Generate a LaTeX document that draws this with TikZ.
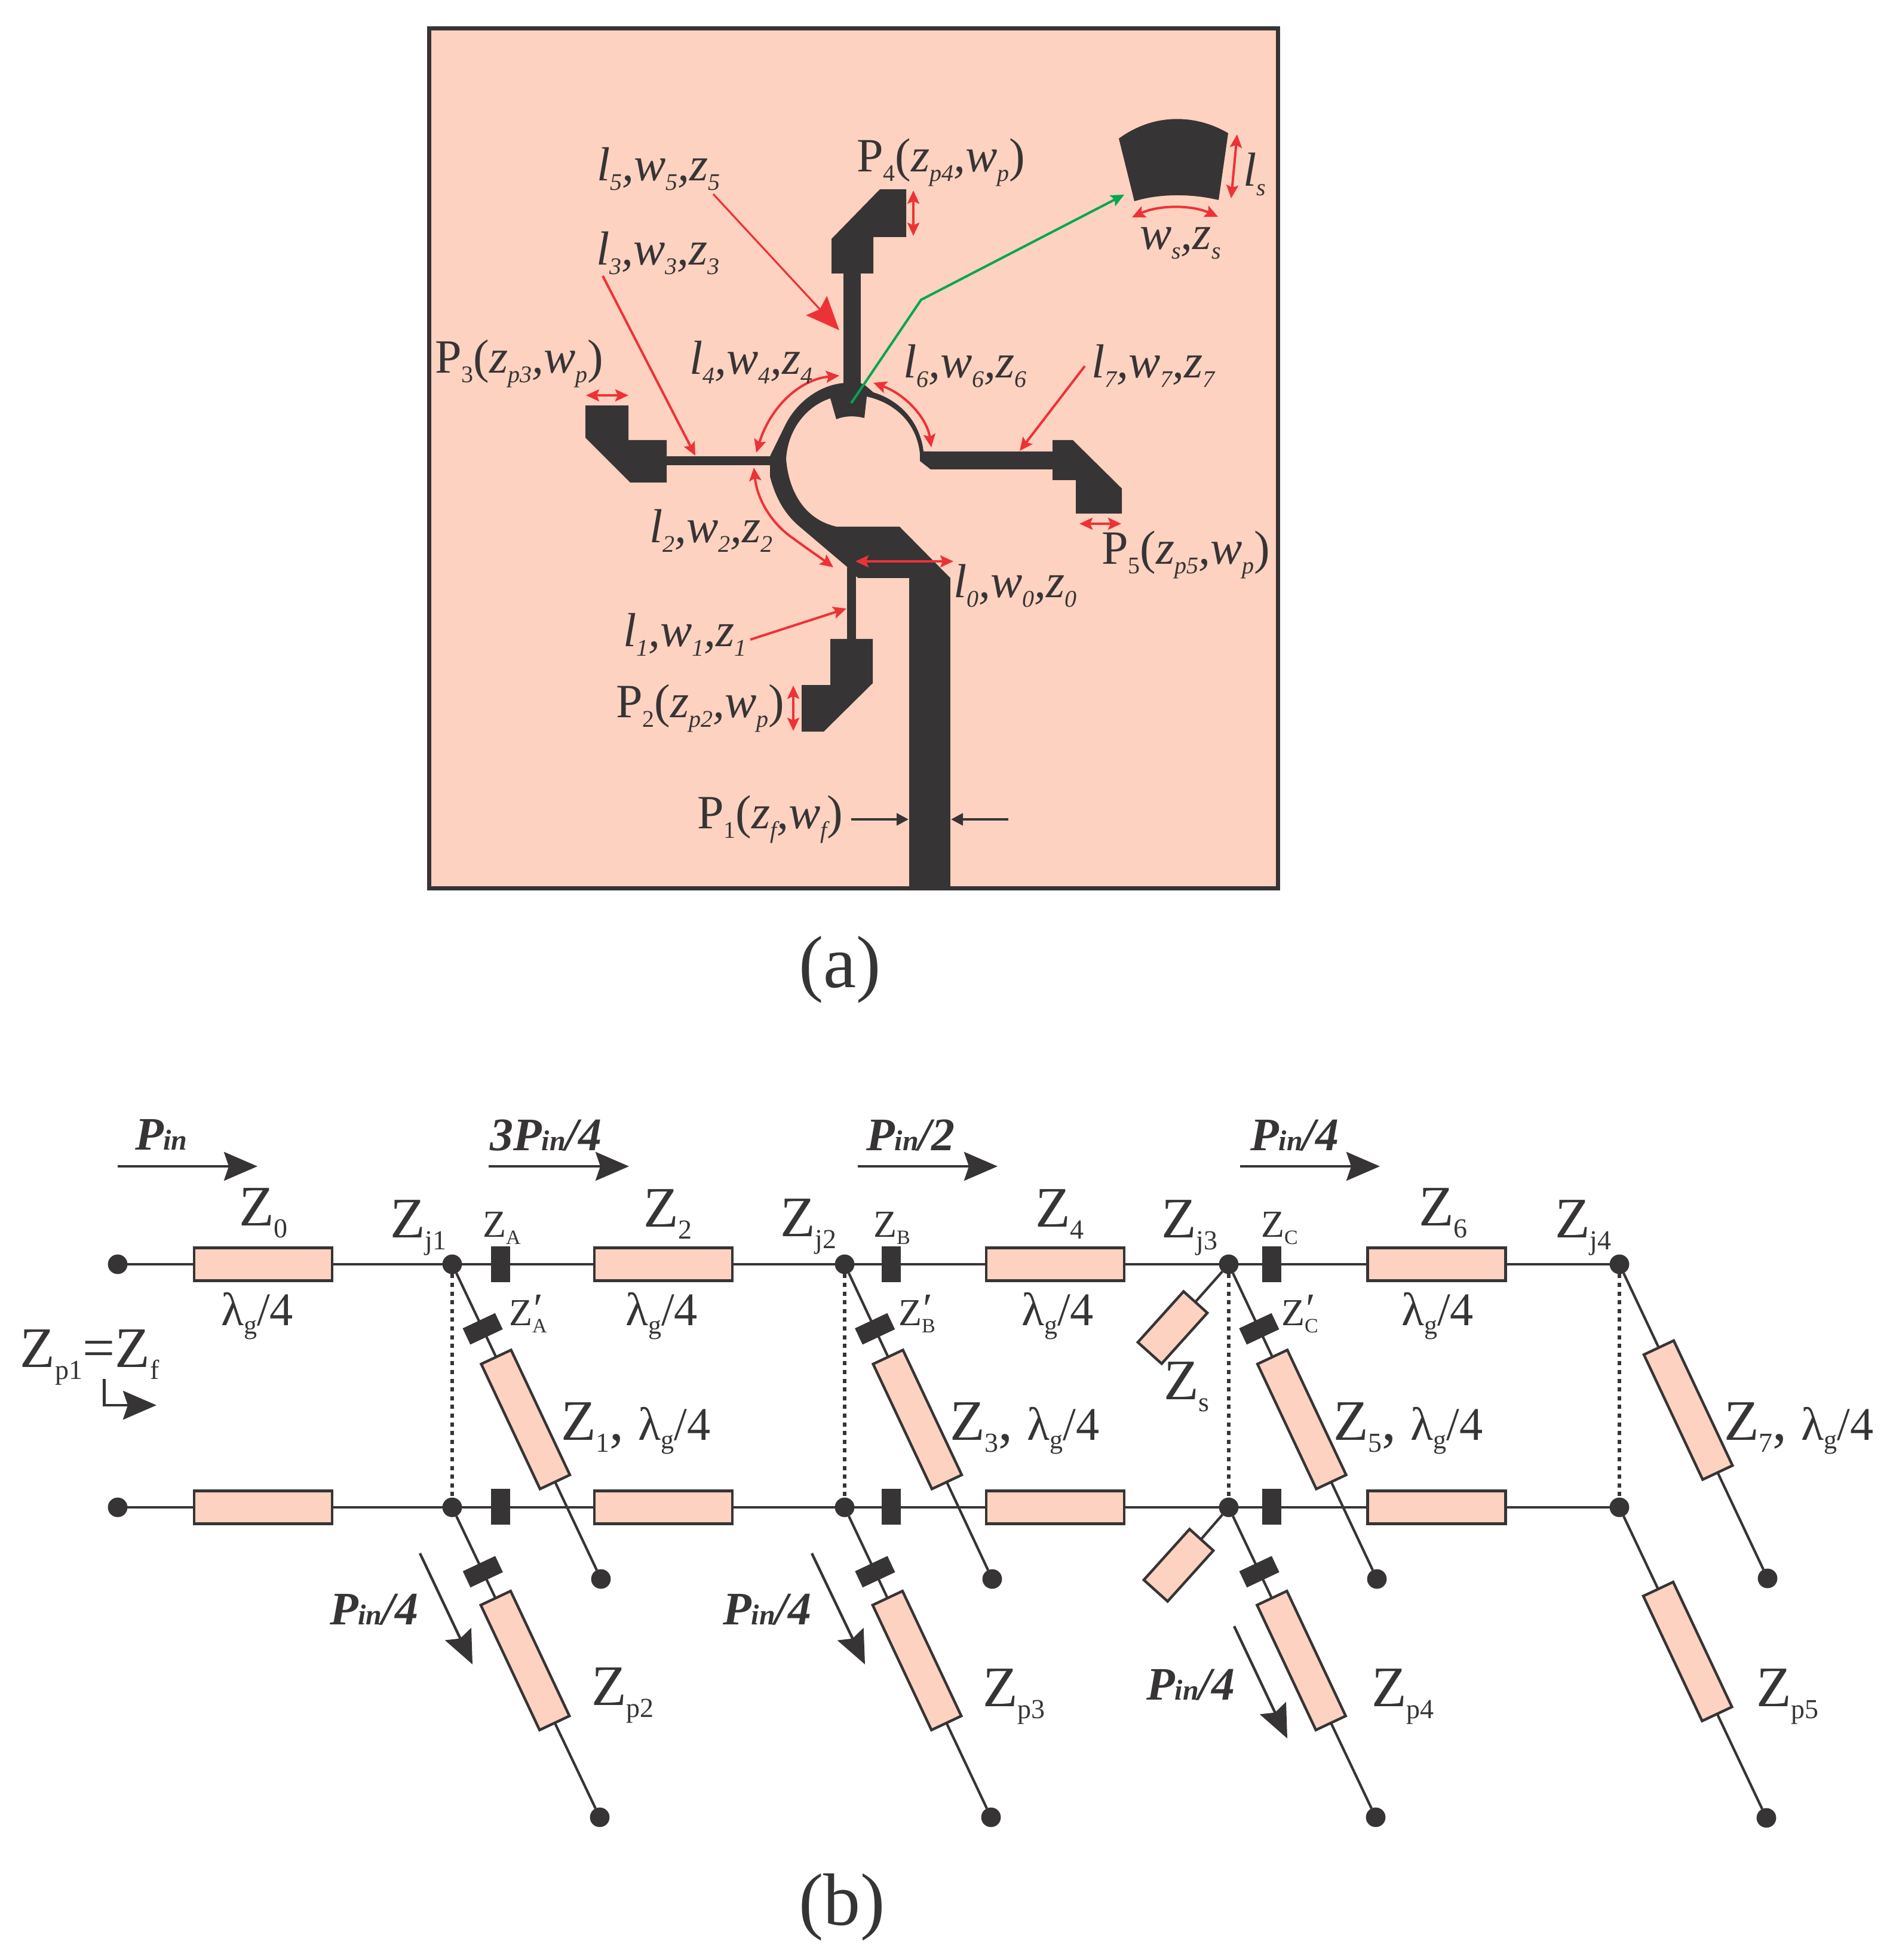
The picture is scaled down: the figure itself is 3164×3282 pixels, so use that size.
\documentclass[tikz,border=0pt]{standalone}
\usepackage{fontspec}
\setmainfont{Liberation Serif}
\usetikzlibrary{arrows.meta}
\definecolor{ink}{HTML}{373435}
\definecolor{subst}{HTML}{FDD2C0}
\definecolor{arrred}{HTML}{ED3237}
\definecolor{arrgreen}{HTML}{00A651}
\newcommand\dn[1]{\raisebox{-4pt}{\fontsize{10}{10}\selectfont #1}}
\newcommand\dnb[1]{\raisebox{-5pt}{\fontsize{11.5}{12}\selectfont #1}}
\newcommand\dnc[1]{\raisebox{-3pt}{\fontsize{8.5}{9}\selectfont #1}}
\newcommand\dnl[1]{\raisebox{-3.6pt}{\fontsize{11}{11}\selectfont #1}}
\newcommand\dnp[1]{{\fontsize{12}{12}\selectfont #1}}
\newcommand\lam{{\fontsize{19.6}{20}\selectfont λ\dnl{g}/4}}
\newcommand\prm[1]{Z\rlap{\raisebox{1pt}{\kern.5pt\fontsize{18}{18}\selectfont ′}}\dnc{#1}}
\tikzset{
  lblb/.style={anchor=base west,inner sep=0pt,outer sep=0pt,text=ink},
  la/.style={lblb,font=\fontsize{20}{20}\selectfont},
  lait/.style={lblb,font=\fontsize{20}{20}\selectfont\itshape},
  lz/.style={lblb,font=\fontsize{24}{24}\selectfont},
  lzs/.style={lblb,font=\fontsize{16}{16}\selectfont},
  lp/.style={lblb,font=\fontsize{19.5}{20}\selectfont\bfseries\itshape},
  captxt/.style={lblb,font=\fontsize{31}{31}\selectfont},
  metal/.style={fill=ink,draw=none},
  redone/.style={draw=arrred,line width=1pt,-{Stealth[length=5.5pt,width=5pt,inset=1pt]}},
  redtwo/.style={draw=arrred,line width=1pt,{Stealth[length=5.5pt,width=5pt,inset=1pt]}-{Stealth[length=5.5pt,width=5pt,inset=1pt]}},
  redbig/.style={draw=arrred,line width=.8pt,-{Stealth[length=14pt,width=11.8pt,inset=2pt]}},
  greenarr/.style={draw=arrgreen,line width=1pt,-{Stealth[length=5.5pt,width=5pt,inset=1pt]}},
  blacksmall/.style={draw=ink,line width=1.1pt,-{Stealth[length=5pt,width=5pt,inset=0pt]}},
  blackbig/.style={draw=ink,line width=1.1pt,-{Stealth[length=14pt,width=12pt,inset=2pt]}},
  wire/.style={draw=ink,line width=1.05pt},
  dotline/.style={draw=ink,line width=1.5pt,dash pattern=on 1.75pt off 1.9pt},
  dotnode/.style={circle,fill=ink,draw=none,inner sep=0pt,minimum size=8.2pt,outer sep=0pt},
  tlh/.style={rectangle,fill=subst,draw=ink,line width=1.1pt,minimum width=57.8pt,minimum height=13.8pt,inner sep=0pt,outer sep=0pt},
  tlr/.style={tlh,rotate=-64.8},
  tls/.style={tlh,rotate=48,minimum width=28.6pt,minimum height=13.4pt},
  blkh/.style={rectangle,fill=ink,draw=none,minimum width=8pt,minimum height=15pt,inner sep=0pt,outer sep=0pt},
  blkr/.style={blkh,rotate=-64.8,minimum width=7.5pt},
}
\begin{document}
\begin{tikzpicture}[x=0.25pt,y=-0.25pt]
\useasboundingbox (0,0) rectangle (3164,3282);
\fill[white] (0,0) rectangle (3164,3282);
% ---------- panel (a): substrate
\draw[draw=ink,fill=subst,line width=1.75pt] (718,48) rectangle (2139.5,1487.5);
% feed and ring
\fill[metal] (1522,968) rectangle (1591,1487);
\fill[metal] (1419,950) -- (1340,883) .. controls (1318,865) and (1300,840) .. (1289,798)
  -- (1289,764) -- (1314,713) .. controls (1335,670) and (1375,645) .. (1411,641.5)
  -- (1439,641) -- (1447,644) -- (1462,657) .. controls (1505,670) and (1540,705) .. (1546,756)
  -- (1558,756) -- (1558,786) -- (1540,772) -- (1540,760)
  .. controls (1535,710) and (1500,675) .. (1451,664) -- (1447,700)
  .. controls (1432,696) and (1415,696) .. (1400,702) -- (1390,667)
  .. controls (1345,682) and (1318,725) .. (1316,769)
  .. controls (1320,820) and (1345,870) .. (1401,882) -- (1506,882) -- (1591,968)
  -- (1437,968) -- (1433,965) -- cycle;
% stubs
\fill[metal] (1412,458) rectangle (1441,660);
\fill[metal] (1558,756) rectangle (1762,786);
\fill[metal] (1116,764) rectangle (1289,779);
\fill[metal] (1418,950) rectangle (1433,1070);
% ports
\fill[metal] (1473,317) -- (1517,317) -- (1517,397) -- (1462,397) -- (1462,458) -- (1392,458) -- (1392,400) -- cycle;
\fill[metal] (1762,737) -- (1796,737) -- (1878,818) -- (1878,860) -- (1801,860) -- (1801,804) -- (1762,804) -- cycle;
\fill[metal] (980,679) -- (1052,679) -- (1052,737) -- (1116,737) -- (1116,808) -- (1055,808) -- (980,733) -- cycle;
\fill[metal] (1390,1070) -- (1461,1070) -- (1461,1144) -- (1379,1225) -- (1342,1225) -- (1342,1147) -- (1390,1147) -- cycle;
% sector stub
\fill[metal] (1873,232) .. controls (1930,190) and (2000,190) .. (2056,223) -- (2040,335)
  .. controls (1995,324) and (1940,324) .. (1899,337) -- cycle;
% annotation end points
\coordinate (c5s) at (1194,325); \coordinate (c5e) at (1405,553);
\coordinate (c3s) at (1009,462); \coordinate (c3e) at (1164,763);
\coordinate (c7s) at (1816,613); \coordinate (c7e) at (1707,755);
\coordinate (c1s) at (1256,1071); \coordinate (c1e) at (1417,1019);
\coordinate (c4s) at (1405,629); \coordinate (c4e) at (1266,758);
\coordinate (c6s) at (1462,641); \coordinate (c6e) at (1559,749);
\coordinate (c2s) at (1262,783); \coordinate (c2m) at (1330,903); \coordinate (c2e) at (1395,950);
\coordinate (c0s) at (1432,940); \coordinate (c0e) at (1596,940);
\coordinate (cp5s) at (1807,877); \coordinate (cp5e) at (1877,877);
\coordinate (cp2s) at (1328,1148); \coordinate (cp2e) at (1328,1224);
\coordinate (cp4s) at (1529,319); \coordinate (cp4e) at (1529,395);
\coordinate (cp3s) at (981,662); \coordinate (cp3e) at (1052,662);
\coordinate (cls) at (2071,225); \coordinate (cle) at (2061,332);
\coordinate (cws) at (1895,364); \coordinate (cwe) at (2039,363);
\coordinate (cgs) at (1425,675); \coordinate (cgm) at (1542,502); \coordinate (cge) at (1882,326);
\coordinate (cf1s) at (1425,1372); \coordinate (cf1e) at (1521,1372);
\coordinate (cf2s) at (1688,1372); \coordinate (cf2e) at (1592,1372);
\draw[redbig] (c5s) -- (c5e);
\draw[redone] (c3s) -- (c3e);
\draw[redone] (c7s) -- (c7e);
\draw[redone] (c1s) -- (c1e);
\draw[redtwo] (c4s) .. controls (1340,635) and (1290,680) .. (c4e);
\draw[redtwo] (c6s) .. controls (1515,660) and (1552,700) .. (c6e);
\draw[redtwo] (c2s) .. controls (1268,840) and (1295,880) .. (c2m) .. controls (1350,918) and (1375,935) .. (c2e);
\draw[redtwo] (c0s) -- (c0e);
\draw[redtwo] (cp5s) -- (cp5e);
\draw[redtwo] (cp2s) -- (cp2e);
\draw[redtwo] (cp4s) -- (cp4e);
\draw[redtwo] (cp3s) -- (cp3e);
\draw[redtwo] (cls) -- (cle);
\draw[redtwo] (cws) .. controls (1940,343) and (1995,343) .. (cwe);
\draw[greenarr] (cgs) -- (cgm) -- (cge);
\draw[blacksmall] (cf1s) -- (cf1e);
\draw[blacksmall] (cf2s) -- (cf2e);
% labels (a)
\node[lait] (l5) at (999,303) {l\dn{5},w\dn{5},z\dn{5}};
\node[lait] (l3) at (998,444) {l\dn{3},w\dn{3},z\dn{3}};
\node[lait] (l4) at (1154,627) {l\dn{4},w\dn{4},z\dn{4}};
\node[lait] (l6) at (1512,633) {l\dn{6},w\dn{6},z\dn{6}};
\node[lait] (l7) at (1827,633) {l\dn{7},w\dn{7},z\dn{7}};
\node[lait] (l2) at (1087,909) {l\dn{2},w\dn{2},z\dn{2}};
\node[lait] (l0) at (1596,1001) {l\dn{0},w\dn{0},z\dn{0}};
\node[lait] (l1) at (1043,1082) {l\dn{1},w\dn{1},z\dn{1}};
\node[lait] (ws) at (1908,418) {w\dn{s},z\dn{s}};
\node[lait] (ls) at (2081,312) {l\dn{s}};
\node[la] (p4) at (1434,288) {P\dn{4}(\textit{z\dn{p4},w\dn{p}})};
\node[la] (p3) at (728,625) {P\dn{3}(\textit{z\dn{p3},w\dn{p}})};
\node[la] (p5) at (1844,945) {P\dn{5}(\textit{z\dn{p5},w\dn{p}})};
\node[la] (p2) at (1031,1201) {P\dn{2}(\textit{z\dn{p2},w\dn{p}})};
\node[la] (p1) at (1167,1387) {P\dn{1}(\textit{z\dn{f},w\dn{f}})};
\node[captxt] (capa) at (1337,1653) {(a)};
% ---------- panel (b)
\foreach \n/\x/\ex in {a/757/1006,b/1414/1661,c/2057/2305}{
  \node[dotnode] (j\n t) at (\x,2117) {};
  \node[dotnode] (j\n b) at (\x,2524) {};
  \node[dotnode] (e\n t) at (\ex,2644) {};
  \node[dotnode] (e\n b) at (\ex-2,3043) {};
  \draw[dotline] (j\n t) -- (j\n b);
  \draw[wire] (j\n t) -- node[blkr,pos=.1875] (bt\n) {} node[tlr,pos=.484,xshift=1.2pt] (rt\n) {} (e\n t);
  \draw[wire] (j\n b) -- node[blkr,pos=.19] (bb\n) {} node[tlr,pos=.485,xshift=1.2pt] (rb\n) {} (e\n b);
}
\node[dotnode] (jdt) at (2711,2117) {};
\node[dotnode] (jdb) at (2711,2524) {};
\node[dotnode] (edt) at (2959,2643) {};
\node[dotnode] (edb) at (2957,3044) {};
\draw[dotline] (jdt) -- (jdb);
\draw[wire] (jdt) -- node[tlr,pos=.462] (rtd) {} (edt);
\draw[wire] (jdb) -- node[tlr,pos=.462] (rbd) {} (edb);
\node[dotnode] (st) at (197,2117) {};
\node[dotnode] (sb) at (197,2524) {};
\draw[wire] (st) -- (jat) -- (jbt) -- (jct) -- (jdt);
\draw[wire] (sb) -- (jab) -- (jbb) -- (jcb) -- (jdb);
% line sections
\foreach \m/\x in {z/440.5,y/1110.5,x/1766.5,w/2405}{
  \node[tlh] (\m t) at (\x,2117) {};
  \node[tlh] (\m b) at (\x,2524) {};
}
\foreach \m/\x in {a/838,b/1492,c/2129}{
  \node[blkh] (k\m t) at (\x,2117) {};
  \node[blkh] (k\m b) at (\x,2523) {};
}
% open stub Zs
\node[tls] (zst) at (1963,2223) {};
\node[tls] (zsb) at (1973,2621) {};
\draw[wire] (jct) -- (zst);
\draw[wire] (jcb) -- (zsb);
% power arrows
\coordinate (pa1s) at (197,1953); \coordinate (pa1e) at (431,1953);
\coordinate (pa2s) at (818,1953); \coordinate (pa2e) at (1053,1953);
\coordinate (pa3s) at (1436,1953); \coordinate (pa3e) at (1670,1953);
\coordinate (pa4s) at (2076,1953); \coordinate (pa4e) at (2310,1953);
\coordinate (pd1s) at (703,2601); \coordinate (pd1e) at (791,2787);
\coordinate (pd2s) at (1359,2601); \coordinate (pd2e) at (1448,2787);
\coordinate (pd3s) at (2066,2723); \coordinate (pd3e) at (2155,2911);
\coordinate (pzs) at (174.5,2309); \coordinate (pzm) at (174.5,2353); \coordinate (pze) at (262,2353);
\foreach \i in {1,2,3,4}{\draw[blackbig] (pa\i s) -- (pa\i e);}
\foreach \i in {1,2,3}{\draw[blackbig] (pd\i s) -- (pd\i e);}
\draw[blackbig] (pzs) -- (pzm) -- (pze);
% labels (b)
\node[lp] (t1) at (226,1925) {P\dnp{in}};
\node[lp] (t2) at (820,1926) {3P\dnp{in}/4};
\node[lp] (t3) at (1450,1926) {P\dnp{in}/2};
\node[lp] (t4) at (2093,1926) {P\dnp{in}/4};
\node[lp] (t5) at (552,2720) {P\dnp{in}/4};
\node[lp] (t6) at (1210,2720) {P\dnp{in}/4};
\node[lp] (t7) at (1919,2846) {P\dnp{in}/4};
\node[lz] (z0l) at (400,2052) {Z\dnb{0}};
\node[lz] (z2l) at (1077,2054) {Z\dnb{2}};
\node[lz] (z4l) at (1733,2054) {Z\dnb{4}};
\node[lz] (z6l) at (2375,2052) {Z\dnb{6}};
\node[lz] (j1l) at (653,2072) {Z\dnb{j1}};
\node[lz] (j2l) at (1306,2070) {Z\dnb{j2}};
\node[lz] (j3l) at (1944,2072) {Z\dnb{j3}};
\node[lz] (j4l) at (2603,2072) {Z\dnb{j4}};
\node[lzs] (zal) at (808,2071) {Z\dnc{A}};
\node[lzs] (zbl) at (1462,2071) {Z\dnc{B}};
\node[lzs] (zcl) at (2111,2071) {Z\dnc{C}};
\node[lzs] (zal2) at (852,2219) {\prm{A}};
\node[lzs] (zbl2) at (1504,2219) {\prm{B}};
\node[lzs] (zcl2) at (2145,2219) {\prm{C}};
\node[lblb] (lam0) at (370,2219) {\lam};
\node[lblb] (lam2) at (1047,2219) {\lam};
\node[lblb] (lam4) at (1710,2219) {\lam};
\node[lblb] (lam6) at (2346,2219) {\lam};
\node[lz] (z1l) at (939,2411) {Z\dnb{1}, \lam};
\node[lz] (z3l) at (1590,2411) {Z\dnb{3}, \lam};
\node[lz] (z5l) at (2232,2411) {Z\dnb{5}, \lam};
\node[lz] (z7l) at (2886,2411) {Z\dnb{7}, \lam};
\node[lz] (zsl) at (1948,2343) {Z\dnb{s}};
\node[lz] (zp1l) at (34,2289) {Z\dnb{p1}=Z\dnb{f}};
\node[lz] (zp2l) at (990,2855) {Z\dnb{p2}};
\node[lz] (zp3l) at (1645,2857) {Z\dnb{p3}};
\node[lz] (zp4l) at (2296,2857) {Z\dnb{p4}};
\node[lz] (zp5l) at (2940,2857) {Z\dnb{p5}};
\node[captxt] (capb) at (1337,3223) {(b)};
\end{tikzpicture}
\end{document}
